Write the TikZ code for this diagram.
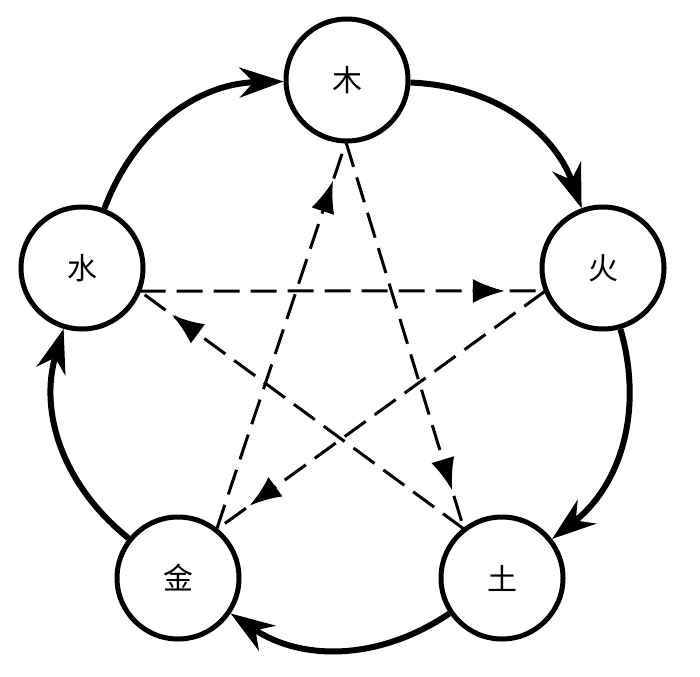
\documentclass[tikz,border=0pt]{standalone}
\usepackage{fontspec}
\newfontfamily\cjk{Noto Sans CJK SC}
\usetikzlibrary{arrows.meta,calc,decorations.markings}
\begin{document}
\begin{tikzpicture}[x=1pt,y=-1pt,
  elem/.style={circle,draw,line width=5pt,minimum size=122pt,inner sep=0pt,font=\cjk\fontsize{30}{30}\selectfont},
  outer/.style={line width=6pt,-{Stealth[length=44pt,width=30pt,inset=14pt]},bend left=34},
  dashline/.style={line width=3pt,dash pattern=on 26pt off 11pt,
    postaction={decorate},
    decoration={markings,mark=at position 0.9 with {\arrow{Latex[length=32pt,width=24pt]}}}}
]
\useasboundingbox (0,0) rectangle (700,676);
\coordinate (c) at (342,372);
\node[elem] (mu) at (347,80) {木};
\node[elem] (huo) at (603,268) {火};
\node[elem] (tu) at (502,578) {土};
\node[elem] (jin) at (178,578) {金};
\node[elem] (shui) at (82,268) {水};
% outer cycle
\draw[outer] (shui) to (mu);
\draw[outer] (mu) to (huo);
\draw[outer] (huo) to (tu);
\draw[outer] (tu) to (jin);
\draw[outer] (jin) to (shui);
% star vertices on circle borders
\coordinate (pmu) at ($(mu)!62pt!(c)$);
\coordinate (phuo) at ($(huo)!62pt!(c)$);
\coordinate (ptu) at ($(tu)!62pt!(c)$);
\coordinate (pjin) at ($(jin)!62pt!(c)$);
\coordinate (pshui) at ($(shui)!62pt!(c)$);
\draw[dashline] (pmu) -- (ptu);
\draw[dashline] (ptu) -- (pshui);
\draw[dashline] (pshui) -- (phuo);
\draw[dashline] (phuo) -- (pjin);
\draw[dashline] (pjin) -- (pmu);
\end{tikzpicture}
\end{document}
